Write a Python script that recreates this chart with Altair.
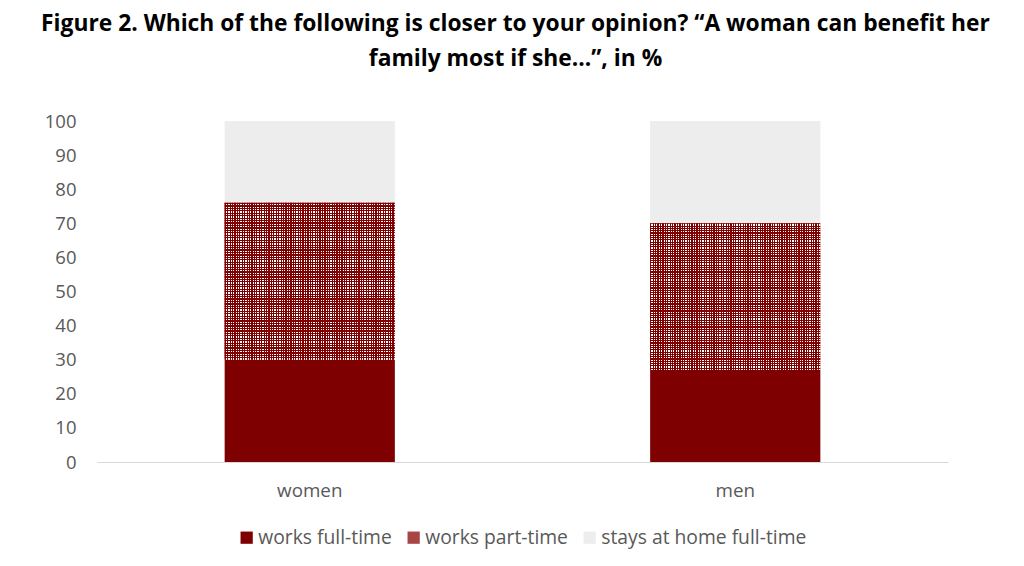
import altair as alt
import pandas as pd

groups = ["women", "men"]
categories = ["works full-time", "works part-time", "stays at home full-time"]
full_time = [30, 27]
part_time = [46, 43]
stay_home = [24, 30]
y_ticks = list(range(0, 101, 10))
title_lines = [
    "Figure 2. Which of the following is closer to your opinion? \u201cA woman can benefit her",
    "family most if she\u2026\u201d, in %",
]

rows = []
for i, g in enumerate(groups):
    start = 0
    for cat, vals in zip(categories, [full_time, part_time, stay_home]):
        v = vals[i]
        rows.append({"group": g, "category": cat, "value": v, "start": start, "end": start + v})
        start += v
df = pd.DataFrame(rows)

DARK = "#7f0000"
colors = [DARK, "#a84545", "#ededed"]
FONT = "Open Sans"
GRAY = "#595959"


def stripes(n, c1, c2, horizontal):
    stops = []
    for k in range(n):
        a = round(k / n, 5)
        m = round((k + 0.5) / n, 5)
        b = round((k + 1) / n, 5)
        stops += [
            alt.GradientStop(color=c1, offset=a),
            alt.GradientStop(color=c1, offset=m),
            alt.GradientStop(color=c2, offset=m),
            alt.GradientStop(color=c2, offset=b),
        ]
    if horizontal:
        return alt.Gradient(gradient="linear", stops=stops, x1=0, x2=1, y1=0, y2=0)
    return alt.Gradient(gradient="linear", stops=stops, x1=0, x2=0, y1=0, y2=1)


x_enc = alt.X(
    "group:N",
    sort=groups,
    scale=alt.Scale(paddingInner=0.6, paddingOuter=0.3),
    axis=alt.Axis(
        title=None, labelAngle=0, ticks=False, domainColor="#d9d9d9", domainWidth=1,
        labelFontSize=18.8, labelColor=GRAY, labelFont=FONT, labelPadding=19,
    ),
)
y_enc = alt.Y(
    "start:Q",
    scale=alt.Scale(domain=[0, 100], nice=False),
    axis=alt.Axis(
        title=None, values=y_ticks, grid=False, domain=False, ticks=False, labelOverlap=False,
        labelFontSize=18.5, labelColor=GRAY, labelFont=FONT, labelPadding=21,
    ),
)

base = alt.Chart(df)

bars = base.mark_bar(strokeWidth=0).encode(
    x=x_enc,
    y=y_enc,
    y2="end:Q",
    color=alt.Color(
        "category:N",
        scale=alt.Scale(domain=categories, range=colors),
        legend=alt.Legend(
            orient="none", legendX=140, legendY=407, direction="horizontal", title=None,
            symbolType="square", symbolSize=150, symbolStrokeWidth=0,
            labelFontSize=19.3, labelColor=GRAY, labelFont=FONT, labelLimit=400,
            columnPadding=12, labelOffset=2,
        ),
    ),
)

part = base.transform_filter(alt.datum.category == "works part-time")
pat_a = part.mark_bar(strokeWidth=0, fill=stripes(70, DARK, "#ffffff", True)).encode(
    x=x_enc, y=y_enc, y2="end:Q"
)
pat_b = part.mark_bar(strokeWidth=0, fill=stripes(64, DARK, "rgba(127,0,0,0)", False)).encode(
    x=x_enc, y=y_enc, y2="end:Q"
)

chart = (
    alt.layer(bars, pat_a, pat_b)
    .properties(
        width=851,
        height=341,
        autosize=alt.AutoSizeParams(type="none"),
        padding={"left": 89, "top": 113, "right": 68, "bottom": 96},
        title=alt.TitleParams(
            text=title_lines, fontSize=22.8, font=FONT, fontWeight="bold", color="#000000",
            anchor="middle", lineHeight=35, offset=41, dx=-7, limit=1000,
        ),
    )
    .configure_view(stroke=None)
)

chart.save("out.html", embed_options={"renderer": "svg", "actions": False})
